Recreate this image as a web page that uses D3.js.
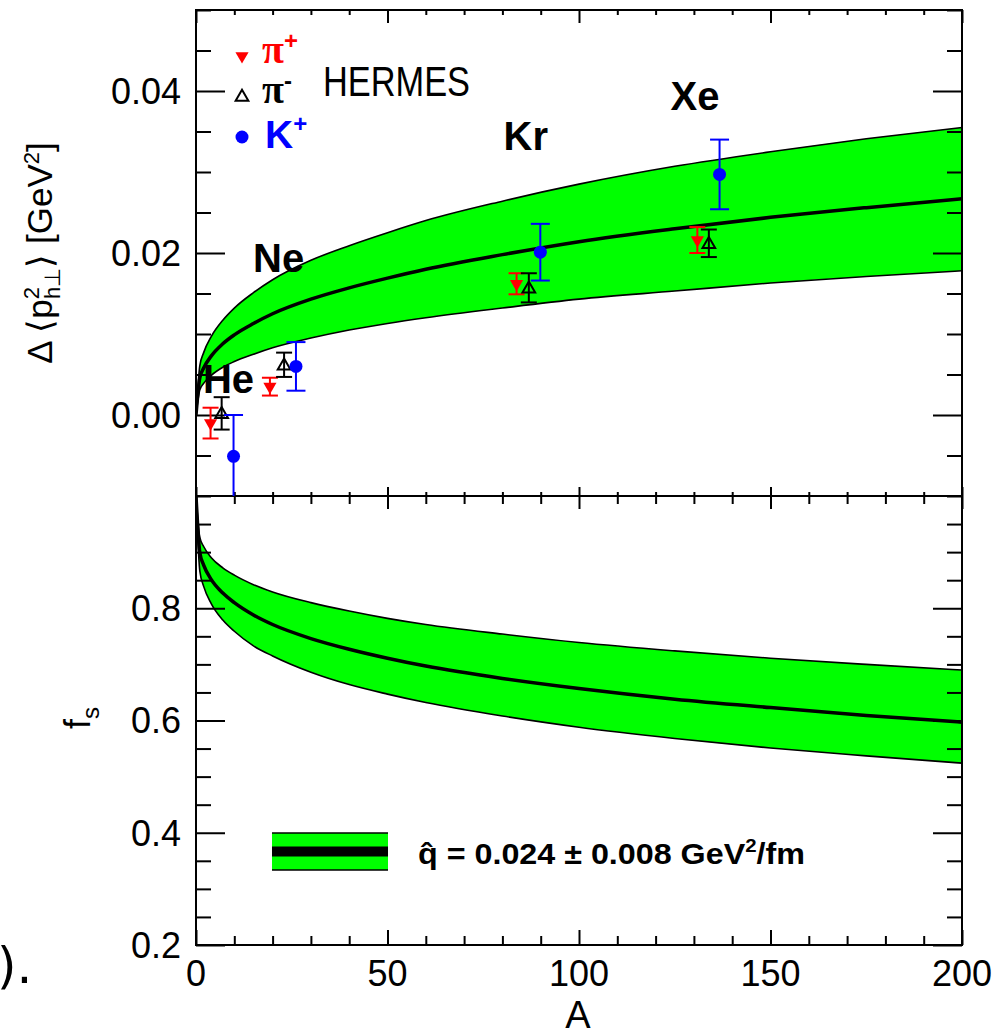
<!DOCTYPE html>
<html>
<head>
<meta charset="utf-8">
<script src="https://cdn.jsdelivr.net/npm/d3@7"></script>
<style>
  body { margin: 0; background: #fff; }
  text { font-family: 'Liberation Sans', Arial, Helvetica, sans-serif; }
</style>
</head>
<body>
<div id="container"></div>
<script>
// grid of A values along the theory curves
const aGrid = [0, 1, 2, 4, 7, 10, 15, 20, 30, 40, 50, 60, 80, 100, 125, 150, 175, 200];

// upper panel: broadening band (central, upper and lower edge)
const p2Central = [0, 0.0046, 0.0058, 0.0073, 0.0088, 0.0099, 0.0113, 0.0125, 0.0143, 0.0157, 0.0169, 0.0180, 0.0198, 0.0214, 0.0230, 0.0244, 0.0256, 0.0267];
const p2Upper = [0, 0.0061, 0.0077, 0.0097, 0.0117, 0.0132, 0.0151, 0.0167, 0.0191, 0.0209, 0.0225, 0.0240, 0.0264, 0.0285, 0.0307, 0.0325, 0.0341, 0.0355];
const p2Lower = [0, 0.0031, 0.0039, 0.0049, 0.0059, 0.0066, 0.0075, 0.0083, 0.0095, 0.0105, 0.0113, 0.0120, 0.0132, 0.0143, 0.0153, 0.0163, 0.0171, 0.0178];

// lower panel: f_s band
const fsCentral = [1.0, 0.899, 0.877, 0.851, 0.827, 0.810, 0.788, 0.771, 0.746, 0.727, 0.711, 0.697, 0.675, 0.657, 0.638, 0.623, 0.609, 0.597];
const fsUpper = [1.0, 0.926, 0.910, 0.890, 0.872, 0.859, 0.842, 0.829, 0.810, 0.795, 0.782, 0.771, 0.754, 0.739, 0.724, 0.711, 0.700, 0.690];
const fsLower = [1.0, 0.866, 0.839, 0.808, 0.779, 0.759, 0.733, 0.715, 0.686, 0.664, 0.647, 0.632, 0.608, 0.588, 0.568, 0.551, 0.537, 0.524];

// HERMES points (He, Ne, Kr, Xe), slightly offset in A
const nuclei = ['He', 'Ne', 'Kr', 'Xe'];
const piPlusA = [3.8, 19.3, 83.7, 130.9];
const piPlusVal = [-0.0010, 0.0035, 0.0162, 0.0216];
const piPlusErr = [0.0019, 0.0011, 0.0013, 0.0016];
const piMinusA = [6.7, 23.0, 86.9, 133.9];
const piMinusVal = [0.0002, 0.0062, 0.0157, 0.0212];
const piMinusErr = [0.0020, 0.0015, 0.0018, 0.0017];
const kPlusA = [9.8, 26.1, 89.9, 136.7];
const kPlusVal = [-0.0051, 0.0060, 0.0201, 0.0297];
const kPlusErr = [0.0051, 0.0030, 0.0035, 0.0043];

// nucleus labels position (A, value at baseline)
const labelA = [1.8, 14.9, 80.3, 123.9];
const labelVal = [0.0027, 0.0177, 0.0327, 0.0377];

const xTicks = [0, 50, 100, 150, 200];
const p2Ticks = [0, 0.02, 0.04];
const fsTicks = [0.2, 0.4, 0.6, 0.8];

const svgWidth = 992;
const svgHeight = 1030;
const padLeft = 196, padRight = 962, padTop = 10, padMid = 496, padBottom = 945;

const svg = d3
  .select('#container')
  .append('svg')
  .attr('width', svgWidth)
  .attr('height', svgHeight);

const xScale = d3.scaleLinear().domain([0, 200]).range([padLeft, padRight]);
const yTop = d3.scaleLinear().domain([-0.01, 0.05]).range([padMid, padTop]);
const yBot = d3.scaleLinear().domain([0.2, 1.0]).range([padBottom, padMid]);

// clip paths
const defs = svg.append('defs');
defs.append('clipPath').attr('id', 'clipTop')
  .append('rect').attr('x', padLeft).attr('y', padTop).attr('width', padRight - padLeft).attr('height', padMid - padTop);
defs.append('clipPath').attr('id', 'clipBot')
  .append('rect').attr('x', padLeft).attr('y', padMid).attr('width', padRight - padLeft).attr('height', padBottom - padMid);

// BANDS
const drawBand = (yScale, lo, hi, cen, clip) => {
  const g = svg.append('g').attr('clip-path', `url(#${clip})`);
  const rows = aGrid.map((a, i) => ({ a, lo: lo[i], hi: hi[i], c: cen[i] }));
  const area = d3.area()
    .x(d => xScale(d.a)).y0(d => yScale(d.lo)).y1(d => yScale(d.hi))
    .curve(d3.curveMonotoneX);
  g.append('path').datum(rows).attr('d', area).attr('fill', '#00ff00');
  ['lo', 'hi'].forEach(k => {
    g.append('path').datum(rows)
      .attr('d', d3.line().x(d => xScale(d.a)).y(d => yScale(d[k])).curve(d3.curveMonotoneX))
      .attr('fill', 'none').attr('stroke', '#000').attr('stroke-width', 1.6);
  });
  g.append('path').datum(rows)
    .attr('d', d3.line().x(d => xScale(d.a)).y(d => yScale(d.c)).curve(d3.curveMonotoneX))
    .attr('fill', 'none').attr('stroke', '#000').attr('stroke-width', 3.5);
};
drawBand(yTop, p2Lower, p2Upper, p2Central, 'clipTop');
drawBand(yBot, fsLower, fsUpper, fsCentral, 'clipBot');

// AXES / TICKS
const minor = (lo, hi, step, majors) =>
  d3.range(Math.round(lo / step), Math.round(hi / step) + 1)
    .map(i => +(i * step).toFixed(4))
    .filter(v => !majors.some(m => Math.abs(m - v) < 1e-9));

const tickGroup = (axis, tx, ty) => {
  const g = svg.append('g').attr('transform', `translate(${tx},${ty})`).call(axis);
  g.select('.domain').remove();
  g.selectAll('.tick line').attr('stroke', '#000').attr('stroke-width', 2);
  g.selectAll('.tick text').remove();
};

const xMinor = minor(0, 200, 10, xTicks);
const p2Minor = minor(-0.01, 0.05, 0.005, p2Ticks);
const fsMinor = minor(0.2, 1.0, 0.05, fsTicks.concat([1.0]));

const xTickSet = [
  [padTop, d3.axisBottom, 13, 5],
  [padMid, d3.axisTop, 9, 4],
  [padMid, d3.axisBottom, 13, 8],
  [padBottom, d3.axisTop, 15, 9]
];
xTickSet.forEach(([y, ax, big, small]) => {
  tickGroup(ax(xScale).tickValues(xTicks).tickSize(big), 0, y);
  tickGroup(ax(xScale).tickValues(xMinor).tickSize(small), 0, y);
});

[[yTop, p2Ticks, p2Minor], [yBot, fsTicks, fsMinor]].forEach(([ys, majors, minors]) => {
  tickGroup(d3.axisRight(ys).tickValues(majors).tickSize(29), padLeft, 0);
  tickGroup(d3.axisRight(ys).tickValues(minors).tickSize(15), padLeft, 0);
  tickGroup(d3.axisLeft(ys).tickValues(majors).tickSize(29), padRight, 0);
  tickGroup(d3.axisLeft(ys).tickValues(minors).tickSize(15), padRight, 0);
});

// frames
[[padTop, padMid], [padMid, padBottom]].forEach(([y0, y1]) => {
  svg.append('rect')
    .attr('x', padLeft).attr('y', y0).attr('width', padRight - padLeft).attr('height', y1 - y0)
    .attr('fill', 'none').attr('stroke', '#000').attr('stroke-width', 2);
});

// tick labels
svg.append('g').selectAll('text').data(p2Ticks).enter().append('text')
  .attr('x', 181).attr('y', d => yTop(d)).attr('dy', '0.36em')
  .attr('text-anchor', 'end').attr('font-size', 36)
  .text(d3.format('.2f'));
svg.append('g').selectAll('text').data(fsTicks).enter().append('text')
  .attr('x', 181).attr('y', d => yBot(d)).attr('dy', '0.36em')
  .attr('text-anchor', 'end').attr('font-size', 36)
  .text(d3.format('.1f'));
svg.append('g').selectAll('text').data(xTicks).enter().append('text')
  .attr('x', d => xScale(d)).attr('y', 986)
  .attr('text-anchor', 'middle').attr('font-size', 36)
  .text(d => d);

// axis titles
svg.append('text').attr('x', 578).attr('y', 1028).attr('text-anchor', 'middle')
  .attr('font-size', 38).text('A');

const yt = svg.append('text')
  .attr('transform', 'translate(52,253) rotate(-90)')
  .attr('text-anchor', 'middle').attr('font-size', 35);
yt.append('tspan').text('\u0394 \u27e8p');
yt.append('tspan').attr('font-size', 22).attr('dy', -13).text('2');
yt.append('tspan').attr('font-size', 22).attr('dx', -12).attr('dy', 21).text('h\u22a5');
yt.append('tspan').attr('dy', -8).text('\u27e9 [GeV');
yt.append('tspan').attr('font-size', 22).attr('dy', -13).text('2');
yt.append('tspan').attr('dy', 13).text(']');

const ft = svg.append('text')
  .attr('transform', 'translate(90,718) rotate(-90)')
  .attr('text-anchor', 'middle').attr('font-size', 36);
ft.append('tspan').text('f');
ft.append('tspan').attr('font-size', 24).attr('dy', 9).text('s');

// DATA POINTS
const series = [
  { A: piPlusA, v: piPlusVal, e: piPlusErr, color: '#ff0000', sym: 'down', cap: 16 },
  { A: piMinusA, v: piMinusVal, e: piMinusErr, color: '#000000', sym: 'open', cap: 16 },
  { A: kPlusA, v: kPlusVal, e: kPlusErr, color: '#0000ff', sym: 'circle', cap: 19 }
];

const marker = (g, sym, color, cx, cy) => {
  if (sym === 'circle') {
    g.append('circle').attr('cx', cx).attr('cy', cy).attr('r', 6.5).attr('fill', color);
  } else if (sym === 'down') {
    g.append('path').attr('d', d3.symbol(d3.symbolTriangle, 75)())
      .attr('transform', `translate(${cx},${cy}) rotate(180)`).attr('fill', color);
  } else {
    g.append('path').attr('d', d3.symbol(d3.symbolTriangle, 70)())
      .attr('transform', `translate(${cx},${cy + 1})`)
      .attr('fill', 'none').attr('stroke', color).attr('stroke-width', 2);
  }
};

const pts = svg.append('g').attr('clip-path', 'url(#clipTop)');
series.forEach(s => {
  s.A.forEach((a, i) => {
    const cx = xScale(a);
    const yHi = yTop(s.v[i] + s.e[i]);
    const yLo = yTop(s.v[i] - s.e[i]);
    pts.append('line').attr('x1', cx).attr('x2', cx).attr('y1', yHi).attr('y2', yLo)
      .attr('stroke', s.color).attr('stroke-width', 2);
    [yHi, yLo].forEach(y => {
      pts.append('line').attr('x1', cx - s.cap / 2).attr('x2', cx + s.cap / 2)
        .attr('y1', y).attr('y2', y).attr('stroke', s.color).attr('stroke-width', 2);
    });
    marker(pts, s.sym, s.color, cx, yTop(s.v[i]));
  });
});

// nucleus labels
svg.append('g').selectAll('text').data(nuclei).enter().append('text')
  .attr('x', (d, i) => xScale(labelA[i])).attr('y', (d, i) => yTop(labelVal[i]))
  .attr('font-size', 40).attr('font-weight', 'bold')
  .text(d => d);

// LEGEND (markers)
const leg = svg.append('g');
const legRows = [
  { sym: 'down', color: '#ff0000', y: 56, label: '\u03c0', sup: '+', serif: true },
  { sym: 'open', color: '#000000', y: 96, label: '\u03c0', sup: '-', serif: true },
  { sym: 'circle', color: '#0000ff', y: 137, label: 'K', sup: '+', serif: false }
];
legRows.forEach(r => {
  marker(leg, r.sym, r.color, 242, r.y);
  const t = leg.append('text').attr('x', r.serif ? 262 : 265).attr('y', r.y + (r.serif ? 7 : 11))
    .attr('fill', r.color).attr('font-weight', 'bold');
  t.append('tspan')
    .style('font-family', r.serif ? "'Liberation Serif', 'DejaVu Serif', serif" : null)
    .attr('font-size', r.serif ? 40 : 39).text(r.label);
  t.append('tspan').attr('font-size', 24).attr('dy', r.serif ? -14 : -16).text(r.sup);
});

svg.append('text').attr('x', 323).attr('y', 96)
  .style('font-family', "'Liberation Sans Narrow', 'Liberation Sans', Arial, sans-serif")
  .attr('font-size', 42).attr('textLength', 147).attr('lengthAdjust', 'spacingAndGlyphs')
  .text('HERMES');

// LEGEND (band)
const lb = svg.append('g');
lb.append('rect').attr('x', 272).attr('y', 833).attr('width', 116).attr('height', 37).attr('fill', '#00ff00');
[833, 870].forEach(y => {
  lb.append('line').attr('x1', 272).attr('x2', 388).attr('y1', y).attr('y2', y)
    .attr('stroke', '#000').attr('stroke-width', 1.6);
});
lb.append('line').attr('x1', 272).attr('x2', 388).attr('y1', 851.5).attr('y2', 851.5)
  .attr('stroke', '#000').attr('stroke-width', 10);

const lt = svg.append('text').attr('x', 418).attr('y', 864)
  .attr('font-size', 30).attr('font-weight', 'bold')
  .attr('textLength', 387).attr('lengthAdjust', 'spacingAndGlyphs');
lt.append('tspan').text('q\u0302 = 0.024 \u00b1 0.008 GeV');
lt.append('tspan').attr('font-size', 19).attr('dy', -12).text('2');
lt.append('tspan').attr('dy', 12).text('/fm');

// fragment of surrounding text
svg.append('text').attr('x', -3).attr('y', 983).attr('font-size', 50)
  .style('font-family', "'DejaVu Sans', sans-serif").text(').');
</script>
</body>
</html>
